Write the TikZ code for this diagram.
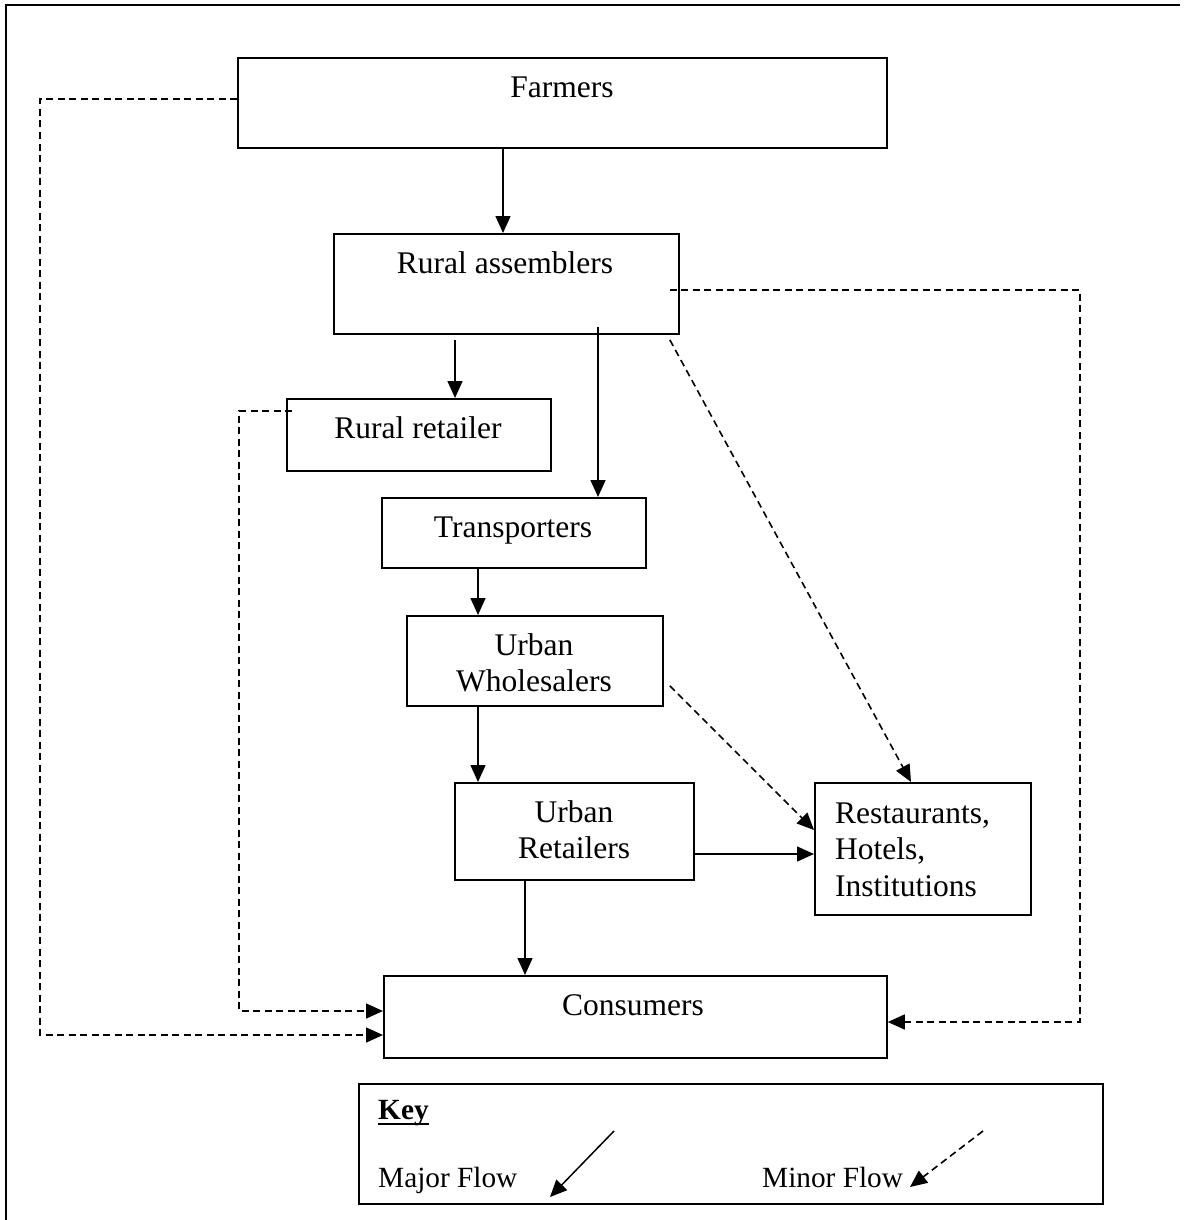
\documentclass[tikz,border=0pt]{standalone}
\usepackage{fontspec}
\setmainfont{Liberation Serif}
\usetikzlibrary{arrows.meta,calc}
\begin{document}
\begin{tikzpicture}[x=1pt,y=-1pt,
  box/.style={draw, line width=1.8pt, inner sep=0, anchor=north west},
  lbl/.style={inner sep=0, font=\fontsize{31.5}{36.5}\selectfont},
  keylbl/.style={inner sep=0, font=\fontsize{29.3}{34}\selectfont},
  major/.style={line width=1.5pt, -{Triangle[length=17pt,width=15pt]}},
  minor/.style={line width=1.6pt, dash pattern=on 7pt off 4.5pt, -{Triangle[length=17pt,width=15pt]}},
  frameline/.style={line width=1.8pt}]
\useasboundingbox (0,0) rectangle (1185,1220);
% page frame
\coordinate (fTL) at (6,5);
\coordinate (fTR) at (1180,5);
\coordinate (fBL) at (6,1220);
\draw[frameline] (fTR) -- (fTL) -- (fBL);

% boxes
\node[box, minimum width=649, minimum height=90] (farm) at (237,57) {};
\node[box, minimum width=345, minimum height=100] (asm) at (333,233) {};
\node[box, minimum width=264, minimum height=72] (rret) at (286,398) {};
\node[box, minimum width=264, minimum height=70] (trans) at (381,497) {};
\node[box, minimum width=256, minimum height=90] (whole) at (406,615) {};
\node[box, minimum width=239, minimum height=97] (uret) at (454,782) {};
\node[box, minimum width=216, minimum height=132] (rest) at (814,782) {};
\node[box, minimum width=503, minimum height=82] (cons) at (383,975) {};
\node[box, minimum width=744, minimum height=120] (key) at (358,1083) {};

% texts
\node[lbl, anchor=base] (tfarm) at (562,97.5) {Farmers};
\node[lbl, anchor=base] (tasm) at (505,273.5) {Rural assemblers};
\node[lbl, anchor=base] (trret) at (418,438.5) {Rural retailer};
\node[lbl, anchor=base] (ttrans) at (513,537) {Transporters};
\node[lbl, anchor=base, align=center] (twhole) at (534,691.5) {Urban\\Wholesalers};
\node[lbl, anchor=base, align=center] (turet) at (574,858.5) {Urban\\Retailers};
\node[lbl, anchor=base west, align=left] (trest) at (835,896) {Restaurants,\\Hotels,\\Institutions};
\node[lbl, anchor=base] (tcons) at (633,1015) {Consumers};
\node[keylbl, anchor=base west, font=\fontsize{29.3}{34}\selectfont\bfseries] (tkey) at (378,1119) {Key};
\draw[line width=2pt] ($(tkey.base west)+(0,4.5)$) -- ($(tkey.base east)+(0,4.5)$);
\node[keylbl, anchor=base west] (tmajor) at (378,1187) {Major Flow};
\node[keylbl, anchor=base west] (tminor) at (762,1187) {Minor Flow};

% column / row helpers
\coordinate (c503) at (503,0);
\coordinate (c455) at (455,0);
\coordinate (c598) at (598,0);
\coordinate (c478) at (478,0);
\coordinate (c525) at (525,0);
\coordinate (r854) at (0,854);

% major flows
\draw[major] (farm.south -| c503) -- (asm.north -| c503);
\draw[major] ($(asm.south -| c455)+(0,5)$) -- (rret.north -| c455);
\draw[major] ($(asm.south -| c598)+(0,-8)$) -- (trans.north -| c598);
\draw[major] (trans.south -| c478) -- (whole.north -| c478);
\draw[major] (whole.south -| c478) -- (uret.north -| c478);
\draw[major] (uret.south -| c525) -- (cons.north -| c525);
\draw[major] (uret.east |- r854) -- (rest.west |- r854);

% minor flows
\draw[minor] ($(whole.east)+(6,25)$) -- ($(rest.north west)+(0,48)$);
\draw[minor] ($(asm.south east)+(-10,5)$) -- ($(rest.north west)+(97,0)$);
\coordinate (rA) at (0,290);
\coordinate (rC) at (0,1022);
\coordinate (cR) at (1080,0);
\draw[minor] ($(asm.east |- rA)+(-10,0)$) -- (cR |- rA) -- (cR |- rC) -- (cons.east |- rC);
\coordinate (rF) at (0,99);
\coordinate (rD) at (0,1035);
\coordinate (cL) at (40,0);
\draw[minor] (farm.west |- rF) -- (cL |- rF) -- (cL |- rD) -- (cons.west |- rD);
\coordinate (rR) at (0,411);
\coordinate (rE) at (0,1011);
\coordinate (cM) at (239,0);
\draw[minor] ($(rret.west |- rR)+(6,0)$) -- (cM |- rR) -- (cM |- rE) -- (cons.west |- rE);

% key arrows
\coordinate (kA1) at (614,1131);
\coordinate (kA2) at (550,1197);
\coordinate (kB1) at (983,1131);
\coordinate (kB2) at (910,1187);
\draw[major] (kA1) -- (kA2);
\draw[minor] (kB1) -- (kB2);
\end{tikzpicture}
\end{document}
